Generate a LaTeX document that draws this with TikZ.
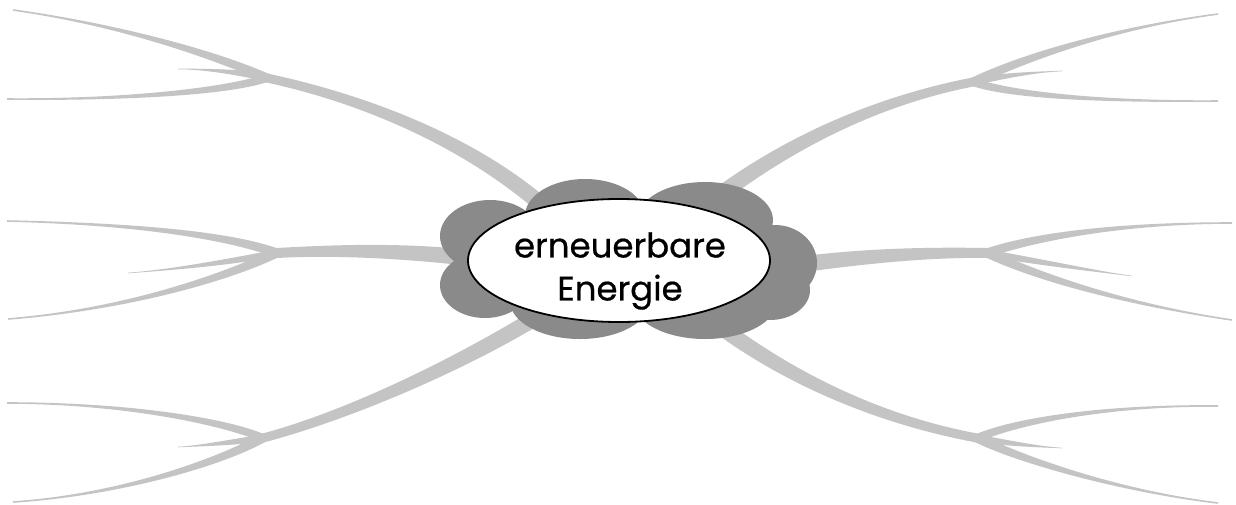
\documentclass[tikz,border=0pt]{standalone}
\usepackage{fontspec}
\setmainfont{Poppins}[FakeBold=0.6]
\usetikzlibrary{calc,shapes.geometric}
\definecolor{branchgray}{RGB}{196,196,196}
\definecolor{cloudgray}{RGB}{138,138,138}
\tikzset{
  branch/.style={fill=branchgray},
  cloudpart/.style={fill=cloudgray},
  coreshape/.style={ellipse, draw=black, line width=1.8pt, fill=white, minimum width=302pt, minimum height=123pt, inner sep=0pt},
  titletext/.style={font=\fontsize{34}{43}\selectfont, align=center, inner sep=0pt}
}
\newcommand\taper[6]{%
  \coordinate (tS) at #1; \coordinate (tA) at #2; \coordinate (tB) at #3; \coordinate (tE) at #4;
  \coordinate (tSp) at ($(tS)!#5!90:(tA)$);
  \coordinate (tEp) at ($(tE)!#6!-90:(tB)$);
  \fill[branch] (tSp) .. controls ($(tA)+(tSp)-(tS)$) and ($(tB)+(tEp)-(tE)$) .. (tEp)
     -- ($2*(tE)-(tEp)$) .. controls ($(tB)-(tEp)+(tE)$) and ($(tA)-(tSp)+(tS)$) .. ($2*(tS)-(tSp)$) -- cycle;
}
\begin{document}
\begin{tikzpicture}[x=1pt,y=-1pt]
\useasboundingbox (0,0) rectangle (1236,504);
\fill[white] (0,0) rectangle (1236,504);
% top left
\taper{(550,212)}{(470,140)}{(360,98)}{(267,78)}{8pt}{4.5pt}
\taper{(267,78)}{(215,55)}{(120,25)}{(13,10)}{4.5pt}{0.8pt}
\taper{(267,78)}{(240,72)}{(205,69)}{(178,69)}{3.5pt}{0.3pt}
\taper{(267,78)}{(225,92)}{(120,100)}{(7,99)}{4pt}{0.8pt}
% middle left
\taper{(470,258)}{(400,250)}{(330,250)}{(277,253)}{8pt}{5pt}
\taper{(277,253)}{(230,236)}{(140,224)}{(7,221)}{4.5pt}{0.8pt}
\taper{(277,253)}{(230,262)}{(170,270)}{(128,273)}{3.5pt}{0.3pt}
\taper{(277,253)}{(220,280)}{(120,310)}{(8,319)}{4.5pt}{0.8pt}
% bottom left
\taper{(545,312)}{(465,362)}{(350,415)}{(263,438)}{8pt}{4.5pt}
\taper{(263,438)}{(220,420)}{(120,403)}{(7,403)}{4pt}{0.8pt}
\taper{(263,438)}{(235,442)}{(200,446)}{(178,447)}{3.5pt}{0.3pt}
\taper{(263,438)}{(220,462)}{(120,495)}{(13,502)}{4.5pt}{0.8pt}
% top right
\taper{(700,210)}{(785,142)}{(880,100)}{(973,82)}{8pt}{4.5pt}
\taper{(973,82)}{(1030,55)}{(1120,27)}{(1218,14)}{4.5pt}{0.8pt}
\taper{(973,82)}{(1000,76)}{(1035,72)}{(1062,71)}{3.5pt}{0.3pt}
\taper{(973,82)}{(1010,95)}{(1100,102)}{(1218,101)}{4pt}{0.8pt}
% middle right
\taper{(790,266)}{(860,256)}{(930,252)}{(987,253)}{8pt}{5pt}
\taper{(987,253)}{(1040,235)}{(1130,223)}{(1232,223)}{4.5pt}{0.8pt}
\taper{(987,253)}{(1040,262)}{(1100,272)}{(1132,276)}{3.5pt}{0.3pt}
\taper{(987,253)}{(1040,278)}{(1130,305)}{(1232,320)}{4.5pt}{0.8pt}
% bottom right
\taper{(705,315)}{(785,378)}{(880,420)}{(977,438)}{8pt}{4.5pt}
\taper{(977,438)}{(1020,420)}{(1110,405)}{(1218,406)}{4pt}{0.8pt}
\taper{(977,438)}{(1005,443)}{(1040,447)}{(1062,448)}{3.5pt}{0.3pt}
\taper{(977,438)}{(1010,455)}{(1110,490)}{(1218,503)}{4.5pt}{0.8pt}
% cloud
\fill[cloudpart] (625,260) ellipse [x radius=150pt, y radius=60pt];
\fill[cloudpart] (490,236) ellipse [x radius=50pt, y radius=36pt];
\fill[cloudpart] (485,285) ellipse [x radius=45pt, y radius=33pt];
\fill[cloudpart] (585,216) ellipse [x radius=60pt, y radius=37pt];
\fill[cloudpart] (705,220) ellipse [x radius=68pt, y radius=38pt];
\fill[cloudpart] (775,263) ellipse [x radius=42pt, y radius=38pt];
\fill[cloudpart] (580,301) ellipse [x radius=70pt, y radius=38pt];
\fill[cloudpart] (705,301) ellipse [x radius=72pt, y radius=38pt];
\fill[cloudpart] (770,290) ellipse [x radius=40pt, y radius=30pt];
% core
\node[coreshape] (core) at (619,260.5) {};
\node[titletext] (title) at (620,271) {erneuerbare\\Energie};
\end{tikzpicture}
\end{document}
